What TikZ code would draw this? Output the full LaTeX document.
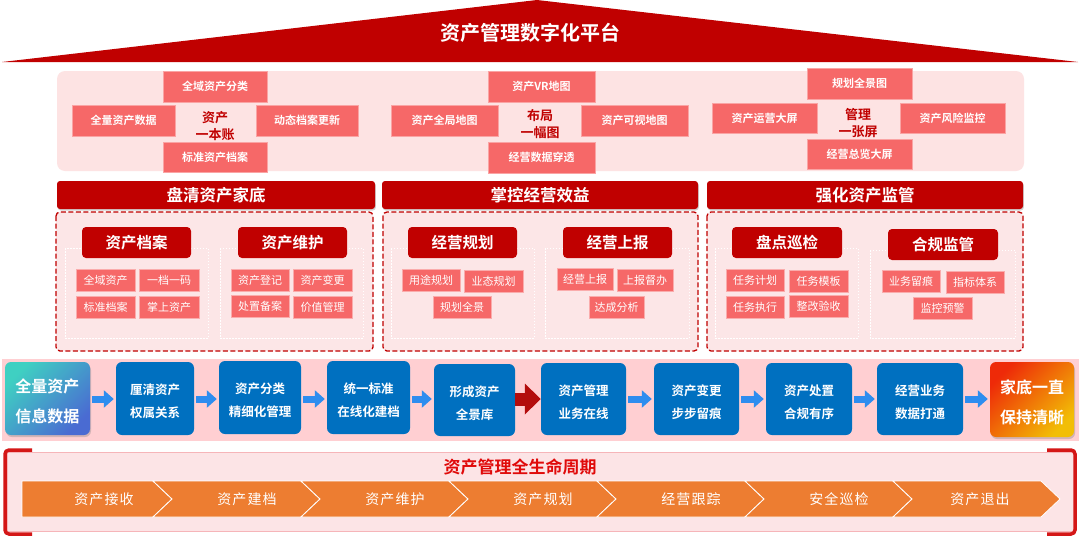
\documentclass[tikz,border=0pt]{standalone}
\usepackage{fontspec}
\setmainfont{Noto Sans CJK SC}[BoldFont={Noto Sans CJK SC Bold}]
\newfontfamily\chevfont{Noto Sans CJK SC}[LetterSpace=8]
\usetikzlibrary{arrows.meta,shadows,calc}
\newcommand\lifted[1]{\raisebox{-3pt}[\height][\depth]{\begin{tabular}{@{}c@{}}#1\end{tabular}}}
\definecolor{dred}{HTML}{C00000}
\definecolor{salmon}{HTML}{F66868}
\definecolor{ppink}{HTML}{FDE3E3}
\definecolor{dpink}{HTML}{FCE6E7}
\definecolor{bandc}{HTML}{FFCFD2}
\definecolor{fblue}{HTML}{0070C0}
\definecolor{ablue}{HTML}{2E8DEF}
\definecolor{rarrow}{HTML}{B30C0C}
\definecolor{orng}{HTML}{ED7D31}
\definecolor{bpanel}{HTML}{FCE4E6}
\definecolor{bborder}{HTML}{F6B5B9}
\definecolor{brk}{HTML}{D41717}
\definecolor{teal1}{HTML}{3FD0C2}
\definecolor{blue2}{HTML}{4A6BD2}
\definecolor{red1}{HTML}{EE2A08}
\definecolor{yel1}{HTML}{F2BE06}
\definecolor{ltitle}{HTML}{E00A0A}
\begin{document}
\begin{tikzpicture}[x=1pt,y=-1pt,
  topbox/.style={fill=salmon, draw=salmon!60!white, line width=0.5pt, text=white,
    font=\bfseries\fontsize{11}{13}\selectfont, inner sep=0pt, minimum height=31pt},
  ctext/.style={text=dred, font=\bfseries\fontsize{13}{17}\selectfont, align=center, inner sep=0pt},
  hdr/.style={fill=dred, text=white, font=\bfseries\fontsize{16.5}{20}\selectfont,
    rounded corners=3pt, minimum height=28pt, inner sep=0pt,
    drop shadow={shadow xshift=0.8pt, shadow yshift=-1.5pt, opacity=0.35}},
  dbox/.style={fill=dpink, draw=dred, line width=1.3pt, dash pattern=on 5pt off 2.5pt, rounded corners=4pt},
  dotbox/.style={draw=white, line width=0.9pt, dash pattern=on 1.5pt off 1.5pt},
  subhdr/.style={fill=dred, text=white, font=\bfseries\fontsize{15.5}{18}\selectfont,
    rounded corners=4pt, minimum width=109pt, minimum height=31pt, inner sep=0pt},
  itembox/.style={fill=salmon, draw=salmon!55!white, line width=0.6pt, text=white,
    font=\fontsize{11}{13}\selectfont, minimum width=58pt, minimum height=22pt, inner sep=0pt},
  flowbox/.style={fill=fblue, text=white, rounded corners=6pt, font=\bfseries\fontsize{12.5}{23}\selectfont,
    inner sep=0pt, minimum height=73pt},
  gradbox/.style={rounded corners=6pt, text=white, font=\bfseries\fontsize{16}{30}\selectfont,
    inner sep=0pt, drop shadow={shadow xshift=1pt, shadow yshift=-2pt, opacity=0.35}},
  barrow/.style={draw=ablue, line width=7pt, -{Triangle[length=10pt,width=17pt]}, shorten <=2pt, shorten >=2pt},
  rarrowst/.style={draw=rarrow, line width=13pt, -{Triangle[length=16pt,width=30pt]}},
  chevtext/.style={text=white, font=\chevfont\fontsize{14}{16}\selectfont, inner sep=0pt},
  bracket/.style={draw=brk, line width=3.5pt, rounded corners=4pt}
]
\useasboundingbox (0,0) rectangle (1080,536);
\fill[white] (0,0) rectangle (1080,536);

% ---------- roof ----------
\fill[dred] (2,62) -- (537,0) -- (1078,62) -- cycle;
\node[font=\bfseries\fontsize{20}{24}\selectfont, text=white] (title) at (530,33) {资产管理数字化平台};

% ---------- top panel ----------
\fill[ppink, rounded corners=8pt] (57,71) rectangle (1024,171);
% group 1
\node[topbox, minimum width=104pt] (t11) at (215,86.5) {全域资产分类};
\node[topbox, minimum width=103pt] (t12) at (123.5,120.5) {全量资产数据};
\node[topbox, minimum width=102pt] (t13) at (307,120.5) {动态档案更新};
\node[topbox, minimum width=104pt, minimum height=30pt] (t14) at (215,157) {标准资产档案};
\node[ctext] (c1) at (215,126) {资产\\一本账};
% group 2
\node[topbox, minimum width=107pt] (t21) at (541.5,86.5) {资产VR地图};
\node[topbox, minimum width=107pt] (t22) at (444.5,120.5) {资产全局地图};
\node[topbox, minimum width=107pt] (t23) at (634.5,120.5) {资产可视地图};
\node[topbox, minimum width=107pt] (t24) at (541.5,157.5) {经营数据穿透};
\node[ctext] (c2) at (540,124) {布局\\一幅图};
% group 3
\node[topbox, minimum width=105pt] (t31) at (859.5,83.5) {规划全景图};
\node[topbox, minimum width=105pt, minimum height=30pt] (t32) at (764.5,118) {资产运营大屏};
\node[topbox, minimum width=105pt, minimum height=30pt] (t33) at (952.5,118) {资产风险监控};
\node[topbox, minimum width=105pt, minimum height=30pt] (t34) at (859.5,154) {经营总览大屏};
\node[ctext] (c3) at (858,123) {管理\\一张屏};

% ---------- headers ----------
\node[hdr, minimum width=318pt] (h1) at (216,195) {盘清资产家底};
\node[hdr, minimum width=316pt] (h2) at (540,195) {掌控经营效益};
\node[hdr, minimum width=316pt] (h3) at (865,195) {强化资产监管};

% ---------- dashed containers ----------
\draw[dbox] (56,212) rectangle (373,351);
\draw[dbox] (383,212) rectangle (698,351);
\draw[dbox] (707,212) rectangle (1023,351);
\draw[dotbox] (65,248) rectangle (208,338);
\draw[dotbox] (220,248) rectangle (363,338);
\draw[dotbox] (391,248) rectangle (534,338);
\draw[dotbox] (545,248) rectangle (689,338);
\draw[dotbox] (715,248) rectangle (858,338);
\draw[dotbox] (870,250) rectangle (1015,338);

\node[subhdr] (s1) at (136.5,242.5) {资产档案};
\node[subhdr] (s2) at (292.5,242.5) {资产维护};
\node[subhdr] (s3) at (462.5,242.5) {经营规划};
\node[subhdr] (s4) at (617.5,242.5) {经营上报};
\node[subhdr, minimum width=110pt] (s5) at (787,242.5) {盘点巡检};
\node[subhdr, minimum width=110pt] (s6) at (943,244.5) {合规监管};

% items
\node[itembox, minimum width=59pt] (i11) at (105.5,280) {全域资产};
\node[itembox, minimum width=60pt] (i12) at (169,280) {一档一码};
\node[itembox, minimum width=59pt] (i13) at (105.5,307.5) {标准档案};
\node[itembox, minimum width=60pt] (i14) at (169,307.5) {掌上资产};
\node[itembox] (i21) at (260,280) {资产登记};
\node[itembox, minimum width=59pt] (i22) at (322.5,280) {资产变更};
\node[itembox] (i23) at (260,306.5) {处置备案};
\node[itembox, minimum width=59pt] (i24) at (322.5,307.5) {价值管理};
\node[itembox] (i31) at (431,280) {用途规划};
\node[itembox, minimum width=59pt] (i32) at (493.5,281) {业态规划};
\node[itembox] (i33) at (462,307) {规划全景};
\node[itembox, minimum width=56pt] (i41) at (585,279.5) {经营上报};
\node[itembox, minimum width=56pt] (i42) at (645,280) {上报督办};
\node[itembox, minimum width=55pt] (i43) at (616.5,307) {达成分析};
\node[itembox] (i51) at (755,280) {任务计划};
\node[itembox, minimum width=59pt] (i52) at (818.5,281) {任务模板};
\node[itembox] (i53) at (755,307.5) {任务执行};
\node[itembox, minimum width=59pt] (i54) at (818.5,306.5) {整改验收};
\node[itembox] (i61) at (911,281.5) {业务留痕};
\node[itembox] (i62) at (975,282) {指标体系};
\node[itembox, minimum width=59pt] (i63) at (942.5,308.5) {监控预警};

% ---------- flow band ----------
\fill[bandc] (2,359) rectangle (1079,441);
\coordinate (fy) at (0,399);
\node[gradbox, minimum width=85pt, minimum height=73pt, top color=teal1, bottom color=blue2, shading angle=45] (f1) at (47.5,398.5) {\lifted{全量资产\\信息数据}};
\node[flowbox, minimum width=78pt] (f2) at (155,398.5) {\lifted{厘清资产\\权属关系}};
\node[flowbox, minimum width=82pt] (f3) at (260,397.5) {\lifted{资产分类\\精细化管理}};
\node[flowbox, minimum width=83pt] (f4) at (368.5,397.5) {\lifted{统一标准\\在线化建档}};
\node[flowbox, minimum width=81pt, minimum height=72pt] (f5) at (474.5,400) {\lifted{形成资产\\全景库}};
\node[flowbox, minimum width=85pt, minimum height=72pt] (f6) at (583.5,399) {\lifted{资产管理\\业务在线}};
\node[flowbox, minimum width=85pt, minimum height=72pt] (f7) at (696.5,399) {\lifted{资产变更\\步步留痕}};
\node[flowbox, minimum width=86pt, minimum height=72pt] (f8) at (809,399) {\lifted{资产处置\\合规有序}};
\node[flowbox, minimum width=86pt, minimum height=72pt] (f9) at (920,399) {\lifted{经营业务\\数据打通}};
\node[gradbox, minimum width=84pt, minimum height=75pt, top color=red1, bottom color=yel1, shading angle=45] (f10) at (1032,399.5) {\lifted{家底一直\\保持清晰}};

\draw[barrow] (f1.east |- fy) -- (f2.west |- fy);
\draw[barrow] (f2.east |- fy) -- (f3.west |- fy);
\draw[barrow] (f3.east |- fy) -- (f4.west |- fy);
\draw[barrow] (f4.east |- fy) -- (f5.west |- fy);
\draw[rarrowst] (f5.east |- fy) -- (f6.west |- fy);
\draw[barrow] (f6.east |- fy) -- (f7.west |- fy);
\draw[barrow] (f7.east |- fy) -- (f8.west |- fy);
\draw[barrow] (f8.east |- fy) -- (f9.west |- fy);
\draw[barrow] (f9.east |- fy) -- (f10.west |- fy);

% ---------- life cycle ----------
\draw[fill=bpanel, draw=bborder, line width=1pt] (7,452) rectangle (1075,531);
\draw[bracket] (32,450) -- (5,450) -- (5,534) -- (32,534);
\draw[bracket] (1047,450) -- (1075,450) -- (1075,534) -- (1047,534);
\node[font=\bfseries\fontsize{17}{20}\selectfont, text=ltitle, inner sep=0pt] (lt) at (520,467) {资产管理全生命周期};

\draw[fill=orng, draw=white, line width=0.8pt] (22,481) -- (153,481) -- (172,499) -- (153,517) -- (22,517) -- cycle;
\foreach \i in {1,...,6}{
  \draw[fill=orng, draw=white, line width=0.8pt]
    ({172+148*(\i-1)-19},481) -- ({172+148*\i-19},481) -- ({172+148*\i},499)
    -- ({172+148*\i-19},517) -- ({172+148*(\i-1)-19},517) -- ({172+148*(\i-1)},499) -- cycle;
}
\node[chevtext] (ch1) at (104,499) {资产接收};
\node[chevtext] (ch2) at (247,499) {资产建档};
\node[chevtext] (ch3) at (395,499) {资产维护};
\node[chevtext] (ch4) at (543,499) {资产规划};
\node[chevtext] (ch5) at (691,499) {经营跟踪};
\node[chevtext] (ch6) at (839,499) {安全巡检};
\node[chevtext] (ch7) at (980,499) {资产退出};
\end{tikzpicture}
\end{document}
